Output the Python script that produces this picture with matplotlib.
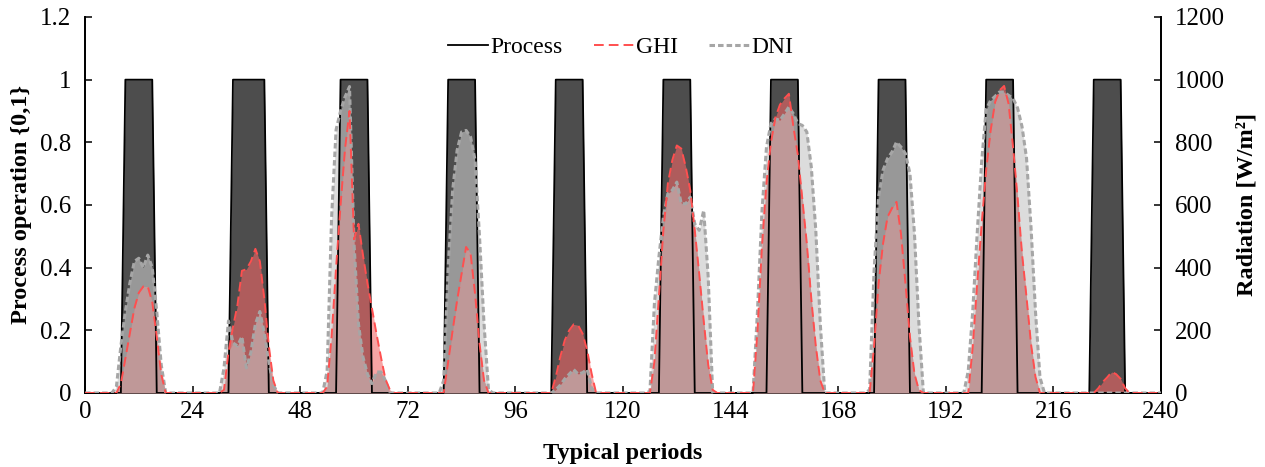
import matplotlib
matplotlib.use("Agg")
import matplotlib.pyplot as plt
from matplotlib.lines import Line2D
import numpy as np

# hourly grid over ten typical days
hours = np.arange(0, 241)

# process on-blocks (first and last hour at 1)
process_on = [(9, 15), (33, 40), (57, 63), (81, 87), (105, 111),
              (129, 135), (153, 159), (177, 183), (201, 207), (225, 231)]

# radiation per day, hours 4..22 of each day [W/m2]
ghi_days = [
    [0, 0, 0, 0, 30, 110, 190, 270, 320, 340, 340, 290, 180, 60, 0, 0, 0, 0, 0],
    [0, 0, 0, 10, 130, 210, 280, 390, 395, 420, 460, 420, 300, 150, 40, 0, 0, 0, 0],
    [0, 0, 20, 180, 400, 600, 780, 900, 490, 540, 440, 350, 270, 190, 115, 45, 10, 0, 0],
    [0, 0, 0, 0, 0, 100, 200, 296, 381, 466, 445, 317, 157, 40, 0, 0, 0, 0, 0],
    [0, 0, 0, 0, 0, 51, 115, 168, 200, 219, 216, 189, 136, 62, 0, 0, 0, 0, 0],
    [0, 0, 0, 100, 306, 519, 668, 743, 790, 780, 721, 647, 520, 380, 230, 90, 10, 0, 0],
    [0, 0, 200, 470, 670, 800, 880, 920, 940, 955, 850, 760, 620, 477, 300, 150, 40, 0, 0],
    [0, 0, 0, 0, 150, 349, 477, 562, 590, 610, 508, 349, 179, 62, 9, 0, 0, 0, 0],
    [0, 0, 147, 349, 540, 711, 838, 929, 966, 980, 923, 785, 625, 445, 306, 157, 51, 0, 0],
    [0, 0, 0, 0, 0, 0, 15, 35, 50, 67, 60, 45, 15, 0, 0, 0, 0, 0, 0],
]
dni_days = [
    [0, 0, 0, 20, 150, 260, 350, 420, 430, 400, 440, 400, 260, 90, 0, 0, 0, 0, 0],
    [0, 0, 0, 80, 230, 160, 150, 180, 80, 130, 220, 260, 190, 100, 25, 0, 0, 0, 0],
    [0, 0, 70, 560, 840, 900, 945, 978, 480, 220, 115, 60, 30, 67, 67, 40, 0, 0, 0],
    [0, 0, 0, 0, 40, 400, 647, 775, 833, 838, 817, 743, 498, 221, 10, 0, 0, 0, 0],
    [0, 0, 0, 0, 0, 10, 25, 45, 60, 75, 60, 65, 75, 15, 0, 0, 0, 0, 0],
    [0, 0, 5, 285, 434, 562, 636, 647, 673, 604, 604, 625, 540, 519, 583, 370, 0, 0, 0],
    [0, 0, 264, 583, 785, 860, 875, 870, 891, 913, 891, 860, 854, 833, 721, 519, 221, 0, 0],
    [0, 0, 0, 10, 391, 625, 711, 748, 769, 801, 785, 764, 700, 510, 220, 0, 0, 0, 0],
    [0, 70, 260, 510, 740, 905, 934, 947, 961, 960, 950, 940, 910, 850, 750, 530, 260, 50, 0],
    [0, 0, 0, 0, 0, 0, 0, 0, 0, 0, 0, 0, 0, 0, 0, 0, 0, 0, 0],
]
day_hours = np.arange(4, 23)

process = np.zeros(len(hours))
for a, b in process_on:
    process[(hours >= a) & (hours <= b)] = 1.0

ghi = np.zeros(len(hours))
dni = np.zeros(len(hours))
for d in range(10):
    idx = d * 24 + day_hours
    ghi[idx] = ghi_days[d]
    dni[idx] = dni_days[d]

plt.rcParams["font.family"] = ["Liberation Serif", "DejaVu Serif"]
plt.rcParams["font.size"] = 17

fig = plt.figure(figsize=(12.65, 4.67), dpi=100)
ax = fig.add_axes([0.0672, 0.1585, 0.8506, 0.8051])
ax2 = ax.twinx()

# process block (left axis)
ax.fill_between(hours, 0, process, color="#4d4d4d", lw=0, zorder=1)

# radiation fills (right axis)
ax2.fill_between(hours, 0, dni, color=(199 / 255, 199 / 255, 199 / 255), alpha=0.62, lw=0, zorder=1)
ax2.fill_between(hours, 0, ghi, color=(242 / 255, 103 / 255, 103 / 255), alpha=0.6, lw=0, zorder=2)
ax2.fill_between(hours, 0, np.minimum(ghi, dni), color="#bf9898", lw=0, zorder=3)

# process outline on top of the fills
ax2.plot(hours, process, color="black", lw=1.3, transform=ax.transData, zorder=4)
ax2.plot(hours, dni, color="#a6a6a6", lw=2.2, linestyle=(0, (1.8, 1.0)), zorder=5)
ax2.plot(hours, ghi, color="#ff4f4f", lw=1.4, linestyle=(0, (5, 2.6)), zorder=6)

ax.set_xlim(0, 240)
ax.set_ylim(0, 1.2)
ax2.set_ylim(0, 1200)
ax.set_xticks(np.arange(0, 241, 24))
ax.set_yticks([0, 0.2, 0.4, 0.6, 0.8, 1.0, 1.2])
ax.set_yticklabels(["0", "0.2", "0.4", "0.6", "0.8", "1", "1.2"])
ax2.set_yticks(np.arange(0, 1201, 200))

for a_ in (ax, ax2):
    a_.spines["top"].set_visible(False)
    for s in ("left", "right", "bottom"):
        a_.spines[s].set_linewidth(1.3)
ax.tick_params(direction="in", length=5, width=1.1, labelsize=18, pad=10)
ax2.tick_params(direction="in", length=5, width=1.1, labelsize=18, pad=10)
ax.tick_params(axis="x", pad=6)

ax.set_xlabel("Typical periods", fontweight="bold", fontsize=17.5, labelpad=14)
ax.set_ylabel("Process operation {0,1}", fontweight="bold", fontsize=17.5, labelpad=6)
ax2.set_ylabel("Radiation [W/m²]", fontweight="bold", fontsize=17.5, labelpad=8)

handles = [
    Line2D([], [], color="black", lw=1.3),
    Line2D([], [], color="#ff4f4f", lw=1.4, linestyle=(0, (5, 2.6))),
    Line2D([], [], color="#a6a6a6", lw=2.2, linestyle=(0, (1.8, 1.0))),
]
ax2.legend(handles, ["Process", "GHI", "DNI"], loc="center", bbox_to_anchor=(0.498, 0.92),
           ncol=3, frameon=False, fontsize=17, handlelength=1.7, handletextpad=0.1,
           columnspacing=1.3)

fig.savefig("out.png", dpi=100)
